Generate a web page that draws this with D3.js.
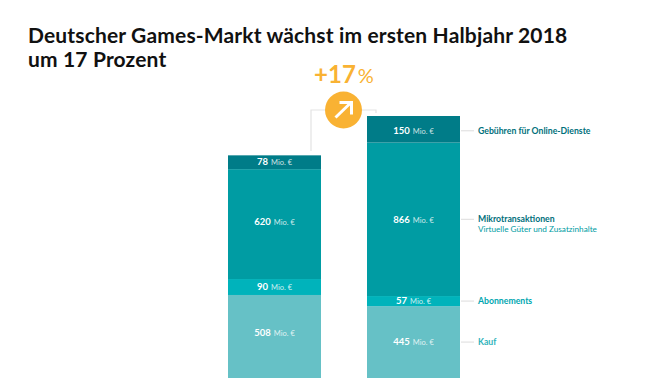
<!DOCTYPE html>
<html>
<head>
<meta charset="utf-8">
<script src="https://cdnjs.cloudflare.com/ajax/libs/d3/7.8.5/d3.min.js"></script>
<style>
  html, body { margin: 0; padding: 0; background: #fff; overflow: hidden; }
  text { font-family: Lato, sans-serif; }
</style>
</head>
<body>
<div class="content"></div>
<script>
var titleLines = ["Deutscher Games-Markt wächst im ersten Halbjahr 2018", "um 17 Prozent"]
var periods = ["2017", "2018"]
var kauf = [508, 445]
var abonnements = [90, 57]
var mikro = [620, 866]
var gebuehren = [78, 150]
var unit = "Mio. €"
var growth = "+17"

var segments = [
    {key: "Kauf", values: kauf, color: "#66c1c6"},
    {key: "Abonnements", values: abonnements, color: "#00b3bb"},
    {key: "Mikrotransaktionen", values: mikro, color: "#009ca3"},
    {key: "Gebühren für Online-Dienste", values: gebuehren, color: "#007c88"}
]

var labels = {
    "Kauf": {color: "#2fb3bb"},
    "Abonnements": {color: "#00a6b0"},
    "Mikrotransaktionen": {color: "#006f7b", sub: "Virtuelle Güter und Zusatzinhalte"},
    "Gebühren für Online-Dienste": {color: "#006f7b"}
}

var width = 670
var height = 378

var svg = d3.select(".content")
    .append("svg")
    .attr("width", width)
    .attr("height", height)
    .style("display", "block")

svg.selectAll(".title")
    .data(titleLines)
    .enter()
    .append("text")
    .attr("class", "title")
    .attr("x", 28)
    .attr("y", (d, i) => 43 + i * 24)
    .attr("font-size", 21)
    .attr("font-weight", 700)
    .attr("letter-spacing", 0.15)
    .attr("fill", "#111")
    .text(d => d)

var x = d3.scaleBand()
    .domain(periods)
    .range([228, 460])
    .paddingInner(0.331)
    .paddingOuter(0)

// baseline sits below the photo edge, the bars are cut off in the original too
var y = d3.scaleLinear()
    .domain([0, 1518])
    .range([385, 116])

var rows = periods.map((p, i) => {
    var row = {period: p}
    segments.forEach(s => { row[s.key] = s.values[i] })
    return row
})

var stacked = d3.stack().keys(segments.map(s => s.key))(rows)

// middle of the part of a segment that is visible
function midY(d) {
    return (Math.min(y(d[0]), height) + y(d[1])) / 2
}

// the original labels are not quite centred
function nudge(d) {
    var key = d.data.period + "|" + (d[1] - d[0])
    if (key == "2017|620") return -2.5
    if (key == "2017|508") return -3.5
    if (key == "2018|150") return 1.5
    return 0
}

var layers = svg.selectAll(".layer")
    .data(stacked)
    .enter()
    .append("g")
    .attr("class", "layer")
    .attr("fill", (d, i) => segments[i].color)

layers.selectAll("rect")
    .data(d => d)
    .enter()
    .append("rect")
    .attr("x", d => x(d.data.period))
    .attr("y", d => y(d[1]))
    .attr("width", x.bandwidth())
    .attr("height", d => y(d[0]) - y(d[1]))

var valueLabels = layers.selectAll("text")
    .data(d => d)
    .enter()
    .append("text")
    .attr("x", d => x(d.data.period) + x.bandwidth() / 2)
    .attr("y", d => midY(d) + nudge(d) + 3.2)
    .attr("text-anchor", "middle")
    .attr("fill", "#fff")

valueLabels.append("tspan")
    .attr("font-size", 9.5)
    .attr("font-weight", 700)
    .text(d => d[1] - d[0])

valueLabels.append("tspan")
    .attr("dx", 3)
    .attr("font-size", 7.5)
    .attr("fill-opacity", 0.8)
    .text(unit)

// labels right of the 2018 bar
var last = periods.length - 1
var labelGroup = svg.selectAll(".label")
    .data(stacked)
    .enter()
    .append("g")
    .attr("class", "label")

function labelY(d) {
    return midY(d[last]) + nudge(d[last])
}

labelGroup.append("line")
    .attr("x1", x(periods[last]) + x.bandwidth() + 1)
    .attr("x2", 474)
    .attr("y1", labelY)
    .attr("y2", labelY)
    .attr("stroke", "#dcdcdc")
    .attr("stroke-width", 1)

labelGroup.append("text")
    .attr("x", 478)
    .attr("y", d => labelY(d) + 3)
    .attr("font-size", 8.7)
    .attr("font-weight", 700)
    .attr("fill", d => labels[d.key].color)
    .text(d => d.key)

labelGroup.filter(d => labels[d.key].sub)
    .append("text")
    .attr("x", 478)
    .attr("y", d => labelY(d) + 12.5)
    .attr("font-size", 8.2)
    .attr("fill", "#009ca3")
    .text(d => labels[d.key].sub)

// growth marker between the bars
var cx = 343.5
var cy = 110

svg.append("path")
    .attr("d", d3.line()([[311, 151], [311, 110], [376, 110], [376, 113]]))
    .attr("fill", "none")
    .attr("stroke", "#e3e3e3")
    .attr("stroke-width", 1.2)

svg.append("circle")
    .attr("cx", cx)
    .attr("cy", cy)
    .attr("r", 18.5)
    .attr("fill", "#f9b233")

svg.append("path")
    .attr("d", d3.line()([[cx - 8, cy + 7.5], [cx + 7, cy - 7]]))
    .attr("stroke", "#fff")
    .attr("stroke-width", 3)

svg.append("path")
    .attr("d", d3.line()([[cx - 4, cy - 7.5], [cx + 8, cy - 7.5], [cx + 8, cy + 4.5]]))
    .attr("fill", "none")
    .attr("stroke", "#fff")
    .attr("stroke-width", 3)

var growthText = svg.append("text")
    .attr("x", 344)
    .attr("y", 83)
    .attr("text-anchor", "middle")
    .attr("fill", "#f9b233")

growthText.append("tspan")
    .attr("font-size", 24)
    .attr("font-weight", 700)
    .text(growth)

growthText.append("tspan")
    .attr("dx", 2)
    .attr("font-size", 20)
    .text("%")
</script>
</body>
</html>
